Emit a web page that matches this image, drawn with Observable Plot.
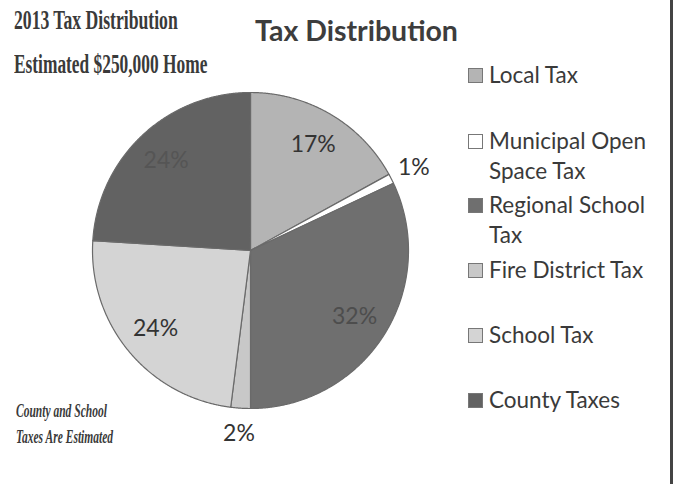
<!DOCTYPE html>
<html>
<head>
<meta charset="utf-8">
<script src="https://cdn.jsdelivr.net/npm/d3@7"></script>
<script src="https://cdn.jsdelivr.net/npm/@observablehq/plot@0.6"></script>
<style>
  html, body { margin: 0; padding: 0; background: #fff; }
  #wrap { position: relative; width: 676px; height: 484px; overflow: hidden; }
  #chart { position: absolute; left: 0; top: 0; }
  .serif { position: absolute; font-family: "Liberation Serif", "DejaVu Serif", serif; font-weight: bold; color: #3a3a3a; transform-origin: 0 0; white-space: nowrap; }
  #t1 { left: 14px; top: 4px; font-size: 28px; transform: scaleX(0.63); }
  #t2 { left: 14px; top: 48px; font-size: 28px; transform: scaleX(0.62); }
  #note1 { left: 16px; top: 401px; font-size: 18px; font-style: italic; transform: scaleX(0.64); }
  #note2 { left: 16px; top: 427px; font-size: 18px; font-style: italic; transform: scaleX(0.64); }
  #title { position: absolute; left: 255px; top: 13px; font-family: Lato, "Open Sans", sans-serif; font-weight: bold; font-size: 28.5px; color: #3d3d3d; white-space: nowrap; }
  #legend { position: absolute; left: 466px; top: 0; font-family: Lato, "Open Sans", sans-serif; font-size: 22.5px; color: #3a3a3a; }
  .item { position: absolute; left: 0; white-space: nowrap; line-height: 30px; }
  .sw { position: absolute; left: 2px; width: 15px; height: 15px; box-sizing: border-box; border: 1.5px solid #777; }
  .lab { position: absolute; left: 23px; }
  #border { position: absolute; left: 670px; top: 0; width: 3px; height: 484px; background: #444; }
</style>
</head>
<body>
<div id="wrap">
  <div id="chart"></div>
  <div class="serif" id="t1">2013 Tax Distribution</div>
  <div class="serif" id="t2">Estimated $250,000 Home</div>
  <div id="title">Tax Distribution</div>
  <div class="serif" id="note1">County and School</div>
  <div class="serif" id="note2">Taxes Are Estimated</div>
  <div id="legend"></div>
  <div id="border"></div>
</div>
<script>
// Data
const categories = ["Local Tax", "Municipal Open Space Tax", "Regional School Tax", "Fire District Tax", "School Tax", "County Taxes"];
const legendLines = [["Local Tax"], ["Municipal Open", "Space Tax"], ["Regional School", "Tax"], ["Fire District Tax"], ["School Tax"], ["County Taxes"]];
const percents = [17, 1, 32, 2, 24, 24];
const colors = ["#b4b4b4", "#ffffff", "#6f6f6f", "#c8c8c8", "#d4d4d4", "#626262"];
const labelColors = ["#333333", "#333333", "#4d4d4d", "#333333", "#333333", "#555555"];

const data = categories.map((c, i) => ({category: c, value: percents[i], color: colors[i], labelColor: labelColors[i]}));

// Pie angles (clockwise from 12 o'clock)
const arcs = d3.pie().value(d => d.value).sort(null)(data);
const toXY = (a, r) => [r * Math.sin(a), -r * Math.cos(a)];

const slices = arcs.map(a => {
  const ring = [[0, 0]];
  const n = Math.max(2, Math.ceil((a.endAngle - a.startAngle) / 0.005));
  for (let k = 0; k <= n; ++k) ring.push(toXY(a.startAngle + (a.endAngle - a.startAngle) * k / n, 1));
  ring.push([0, 0]);
  return {type: "Feature", properties: a.data, geometry: {type: "Polygon", coordinates: [ring]}};
});

const labels = arcs.map(a => {
  const mid = (a.startAngle + a.endAngle) / 2;
  const outside = a.data.value < 3;
  const [x, y] = toXY(mid, outside ? 1.16 : 0.78);
  return {x, y, text: a.data.value + "%", color: outside ? "#333333" : a.data.labelColor};
});

const plot = Plot.plot({
  width: 676,
  height: 484,
  marginLeft: 92,
  marginRight: 268,
  marginTop: 92,
  marginBottom: 76,
  projection: {type: "identity", reflectY: true, clip: false, domain: {type: "MultiPoint", coordinates: [[-1, -1], [1, 1]]}},
  marks: [
    Plot.geo(slices, {fill: d => d.properties.color, stroke: "#6a6a6a", strokeWidth: 1.2}),
    Plot.text(labels, {x: "x", y: "y", text: "text", fill: "color", fontSize: 23, fontFamily: "Lato, 'Open Sans', sans-serif", clip: false})
  ]
});
document.getElementById("chart").appendChild(plot);

// Legend
const legendTops = [60, 126, 190, 255, 320, 385];
const legend = document.getElementById("legend");
data.forEach((d, i) => {
  const it = document.createElement("div");
  it.className = "item";
  it.style.top = legendTops[i] + "px";
  const sw = document.createElement("div");
  sw.className = "sw";
  sw.style.background = d.color;
  sw.style.top = "8px";
  it.appendChild(sw);
  const lab = document.createElement("div");
  lab.className = "lab";
  lab.innerHTML = legendLines[i].join("<br>");
  it.appendChild(lab);
  legend.appendChild(it);
});
</script>
</body>
</html>
